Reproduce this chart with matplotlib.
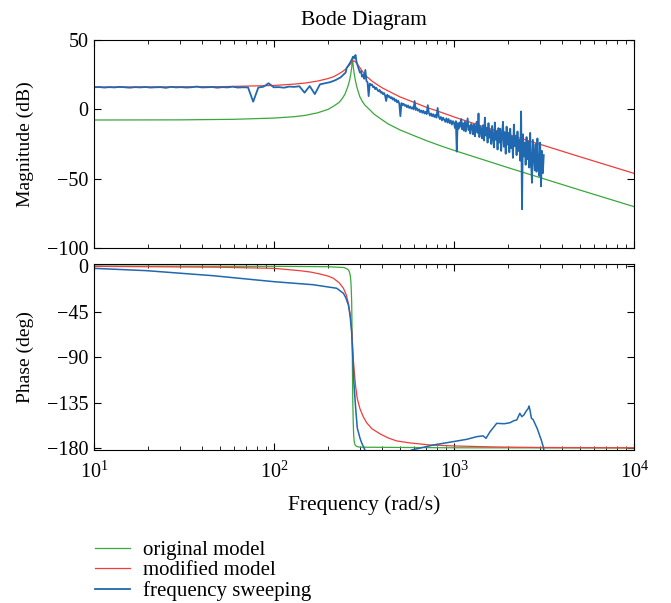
import matplotlib
matplotlib.use("Agg")
import matplotlib.pyplot as plt
import numpy as np

plt.rcParams['font.family'] = ['Liberation Serif', 'DejaVu Serif']
plt.rcParams['mathtext.fontset'] = 'custom'
plt.rcParams['mathtext.rm'] = 'Liberation Serif'
plt.rcParams['font.size'] = 15

# original model (green)
orig_f = [10, 30, 60, 100, 130, 150, 175, 200, 215, 230, 240, 248, 253, 258, 263, 267,
          270, 272, 273, 274, 276, 279, 283, 288, 294, 300, 310, 320, 334, 360, 388,
          430, 500, 600, 700, 850, 1000, 2000, 5000, 10000]
orig_mag = [-7.7, -7.6, -7.2, -6.3, -5.3, -4.3, -2.5, 0.0, 2.4, 5.0, 8.0, 11.0, 14.0,
            17.0, 21.0, 25.5, 30.0, 34.5, 38.0, 34.5, 30.0, 25.5, 21.0, 16.5, 12.5,
            9.0, 5.5, 3.0, 0.7, -3.5, -6.5, -10.5, -14.8, -19.0, -22.5, -26.5, -29.6,
            -42.1, -58.2, -70.2]
orig_ph_f = [10, 100, 200, 245, 252, 258, 262, 265, 267, 268.5, 270, 271, 272, 273,
             274, 275.5, 277, 279, 282, 288, 300, 1000, 10000]
orig_ph = [-0.1, -0.3, -0.7, -1.5, -2.5, -3.5, -5.5, -9, -14, -22, -35, -55, -80,
           -110, -135, -155, -167, -174, -177, -178.5, -179.2, -179.8, -180]

# modified model (red)
mod_f = [10, 50, 100, 130, 150, 175, 200, 215, 230, 240, 250, 258, 265, 272, 278, 284,
         290, 300, 310, 325, 350, 375, 400, 450, 500, 600, 700, 850, 1000, 1500, 2000,
         3000, 5000, 10000]
mod_mag = [16.0, 16.3, 17.2, 18.2, 19.0, 20.4, 22.2, 23.6, 25.7, 27.2, 29.0, 30.8,
           32.5, 34.2, 35.0, 34.2, 32.7, 30.0, 27.3, 24.0, 20.4, 17.7, 15.4, 12.0, 9.0,
           5.0, 1.5, -2.2, -5.5, -13.0, -18.1, -25.2, -34.2, -46.2]
mod_ph_f = [10, 50, 100, 139, 160, 180, 200, 214, 230, 243, 252, 259, 265, 270, 273,
            276, 280, 284, 290, 300, 313, 327, 350, 388, 430, 480, 570, 736, 1000,
            1726, 3000, 10000]
mod_ph = [-0.3, -1.2, -2.3, -4.6, -6.0, -7.9, -10.0, -12.2, -16.5, -22, -28.5, -37,
          -48, -63, -77, -93, -107, -119, -131, -141, -149, -155, -161, -166, -170,
          -173, -175, -177, -178, -179, -179.5, -179.8]

# frequency sweeping (blue), measured on three log-spaced sweep bands
sweep_lo_f = np.geomspace(10, 250, 50)
sweep_lo_mag = [15.9, 16.1, 15.7, 16.0, 15.8, 16.2, 15.9, 15.6, 16.0, 15.8,
                16.1, 15.7, 15.9, 16.0, 15.5, 16.2, 15.8, 16.0, 15.7, 15.9,
                16.4, 15.8, 15.9, 16.1, 15.6, 16.0, 15.8, 16.3, 15.7, 15.9,
                15.8, 5.5, 15.7, 16.3, 18.8, 15.9, 16.0, 15.6, 16.4, 16.2,
                16.6, 12.0, 16.8, 11.0, 18.0, 18.8, 19.6, 21.0, 23.0, 26.5]
sweep_mid_f = np.geomspace(250, 1000, 100)
sweep_mid_mag = [29.0, 30.0, 31.0, 32.2, 33.5, 35.0, 36.5, 38.0, 36.8, 39.2,
                 34.0, 31.5, 29.0, 26.5, 27.5, 23.5, 25.0, 22.0, 28.4, 20.5,
                 19.5, 9.5, 18.5, 17.5, 18.0, 16.0, 16.5, 14.5, 15.5, 14.0,
                 13.0, 14.0, 12.0, 12.5, 11.0, 11.8, 10.0, 6.0, 10.5, 9.0,
                 9.5, 8.0, 8.8, 7.0, 8.0, 6.0, 7.0, 5.0, 6.2, 4.0,
                 -5.0, 4.5, 3.0, 4.0, 2.5, 3.2, 1.5, 2.8, 1.0, 2.0,
                 0.5, 1.5, 0.0, 6.0, -0.5, 0.8, -1.0, 0.0, -2.0, -0.8,
                 -2.5, -1.0, -3.0, -1.8, -3.5, 3.0, -2.5, -4.5, -3.0, -5.0,
                 -3.5, -5.5, -4.0, -6.0, 1.0, -5.0, -7.0, -5.5, -8.0, -6.0,
                 -7.5, -9.0, -6.5, -9.5, -7.0, -10.0, -8.0, -11.0, -8.5, -10.0]
sweep_hi_f = np.geomspace(1000, 3150, 100)
sweep_hi_mag = [-9.0, -13.5, -8.5, -30.5, -10.0, -14.0, -9.5, -12.5, -7.0, -14.5,
                -10.0, -15.5, -9.0, -16.0, -11.5, -6.5, -15.0, -12.0, -17.5, -10.5,
                -12.0, -18.0, -11.0, -19.5, -13.0, -9.0, -17.0, -3.0, -20.0, -12.5,
                -14.0, -21.0, -11.5, -22.5, -6.0, -19.0, -13.5, -24.0, -10.0, -20.5,
                -15.0, -25.0, -12.0, -21.0, -27.5, -9.5, -22.0, -16.0, -29.0, -13.5,
                -24.0, -14.0, -30.0, -18.0, -9.0, -27.0, -16.5, -32.0, -12.5, -25.5,
                -17.0, -31.0, -14.0, -28.0, -20.0, -35.0, -11.0, -26.5, -19.0, -33.0,
                -16.0, -30.0, -22.0, -37.0, -1.5, -72.0, -18.0, -34.0, -24.0, -40.0,
                -20.0, -36.0, -23.5, -42.0, -17.0, -38.0, -53.0, -22.0, -33.0, -44.0,
                -25.0, -45.0, -21.0, -39.0, -48.0, -24.0, -55.5, -30.0, -46.0, -33.0]
sweep_ph_f = [10, 19.6, 46, 100, 165, 223, 243, 250, 259, 265, 270, 274, 278, 284, 290,
              300, 307, 320, 340, 400, 500, 582, 768, 990, 1178, 1335, 1450, 1505,
              1585, 1726, 1900, 2045, 2150, 2230, 2320, 2380, 2440, 2527, 2580, 2610,
              2650, 2690, 2750, 2810, 2900, 2980, 3050, 3135, 3160]
sweep_ph = [-2.3, -4.6, -9.6, -15.5, -18.5, -22, -27, -31, -38.6, -50, -66, -90, -116,
            -140, -160, -170, -175, -182, -190, -195, -188, -182, -177, -173.7, -171.4,
            -168.8, -168, -170.4, -163.9, -155.6, -156, -155, -153, -152.3, -145.7,
            -149, -147.4, -143, -141, -138.5, -144, -150.6, -152, -155.6, -161, -167,
            -172, -179.3, -183]

sweep_f = np.concatenate([sweep_lo_f, sweep_mid_f[1:], sweep_hi_f[1:]])
sweep_mag = np.concatenate([sweep_lo_mag, sweep_mid_mag[1:], sweep_hi_mag[1:]])

c_green = '#3aa83a'
c_red = '#f03c3c'
c_blue = '#2068b0'

fig = plt.figure(figsize=(6.71, 6.03), dpi=100)
ax1 = fig.add_axes([0.140, 0.5887, 0.805, 0.345])
ax2 = fig.add_axes([0.140, 0.2537, 0.805, 0.3085])

ax1.plot(orig_f, orig_mag, color=c_green, lw=0.9, label='original model')
ax1.plot(mod_f, mod_mag, color=c_red, lw=0.9, label='modified model')
ax1.plot(sweep_f, sweep_mag, color=c_blue, lw=1.3, label='frequency sweeping')

ax2.plot(orig_ph_f, orig_ph, color=c_green, lw=0.9)
ax2.plot(mod_ph_f, mod_ph, color=c_red, lw=0.9)
ax2.plot(sweep_ph_f, sweep_ph, color=c_blue, lw=1.1)

for ax in (ax1, ax2):
    ax.set_xscale('log')
    ax.set_xlim(10, 1e4)
    ax.tick_params(which='both', direction='in', top=True, right=True, labelsize=14.5)
    ax.tick_params(axis='y', pad=4)
    ax.tick_params(axis='x', pad=8)
    ax.tick_params(which='major', length=5)
    ax.tick_params(which='minor', length=3)

ax1.set_ylim(-100, 50)
ax1.set_yticks([50, 0, -50, -100])
ax1.tick_params(labelbottom=False)
ax1.set_ylabel('Magnitude (dB)', fontsize=14)
ax1.yaxis.set_label_coords(-0.111, 0.5)
ax1.set_title('Bode Diagram', fontsize=15.5, pad=11)

ax2.set_ylim(-182, 2)
ax2.set_yticks([0, -45, -90, -135, -180])
ax2.set_ylabel('Phase (deg)', fontsize=14)
ax2.yaxis.set_label_coords(-0.111, 0.5)
ax2.set_xlabel('Frequency (rad/s)', fontsize=15.5, labelpad=9)

fig.legend(loc='upper left', bbox_to_anchor=(0.1416, 0.103), frameon=False,
           fontsize=15, handlelength=1.68, handletextpad=0.62, labelspacing=0.02,
           borderpad=0, borderaxespad=0)

fig.savefig('out.png', dpi=100)
